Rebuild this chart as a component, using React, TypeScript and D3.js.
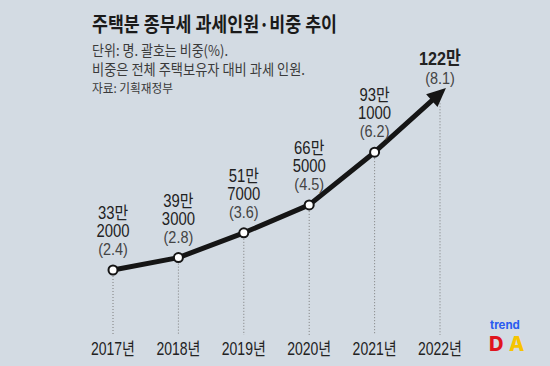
import { useMemo } from "react";
import { scaleLinear, scalePoint, line } from "d3";

const years = [2017, 2018, 2019, 2020, 2021, 2022];
const tenThousands = [33, 39, 51, 66, 93, 122];
const remainders = ["2000", "3000", "7000", "5000", "1000", ""];
const ratios = [2.4, 2.8, 3.6, 4.5, 6.2, 8.1];

const title = "주택분 종부세 과세인원·비중 추이";
const notes = ["단위: 명. 괄호는 비중(%).", "비중은 전체 주택보유자 대비 과세 인원."];
const source = "자료: 기획재정부";

const W = 550;
const H = 366;
const FONT = "'Liberation Sans', 'Noto Sans CJK KR', sans-serif";
const KFONT = "'Noto Sans CJK KR', sans-serif";

const Narrow = ({ x, y, sx = 0.85, size = 17, weight = 400, children }: any) => (
  <text
    transform={`translate(${x},${y}) scale(${sx},1)`}
    textAnchor="middle"
    fontFamily={FONT}
    fontSize={size}
    fontWeight={weight}
    fill="#222"
  >
    {children}
  </text>
);

export default function App() {
  const xScale = scalePoint<number>().domain(years).range([113, 440]);
  const yScale = scaleLinear().domain([0, 8.1]).range([344.4, 93.3]);

  const pts = years.map((yr, i) => [xScale(yr) as number, yScale(ratios[i])]);

  const arrow = useMemo(() => {
    const [x4, y4] = pts[4];
    const [x5, y5] = pts[5];
    const len = Math.hypot(x5 - x4, y5 - y4);
    const dx = (x5 - x4) / len;
    const dy = (y5 - y4) / len;
    const tip = [x5 + 8 * dx, y5 + 8 * dy];
    const base = [tip[0] - 19 * dx, tip[1] - 19 * dy];
    const hw = 8.5;
    return {
      head: `M${tip[0]},${tip[1]} L${base[0] - dy * hw},${base[1] + dx * hw} L${base[0] + dy * hw},${base[1] - dx * hw} Z`,
      lineEnd: [base[0] + 3 * dx, base[1] + 3 * dy],
    };
  }, [pts]);

  const path = line()([...pts.slice(0, 5), arrow.lineEnd as [number, number]]) ?? "";

  return (
    <div style={{ position: "fixed", left: 0, top: 0 }}>
      <svg width={W} height={H} viewBox={`0 0 ${W} ${H}`}>
        <rect width={W} height={H} fill="#d3dbe3" />

        <text x={92} y={32} fontFamily={KFONT} fontSize={20} fontWeight={700} fill="#1a1a1a"
          textLength={245} lengthAdjust="spacingAndGlyphs">{title}</text>
        {notes.map((n, i) => (
          <text key={n} x={92} y={56 + i * 19} fontFamily={KFONT} fontSize={14.5} fill="#3a3a3a"
            textLength={i === 0 ? 136 : 213} lengthAdjust="spacingAndGlyphs">{n}</text>
        ))}
        <text x={92} y={93} fontFamily={KFONT} fontSize={12.5} fill="#3a3a3a"
          textLength={81} lengthAdjust="spacingAndGlyphs">{source}</text>

        {pts.map(([px, py], i) => (
          <line key={years[i]} x1={px} x2={px} y1={i === 5 ? py + 10 : py + 6} y2={335}
            stroke="#7d7d7d" strokeWidth={1} strokeDasharray="1,2" />
        ))}

        <path d={path} fill="none" stroke="#151515" strokeWidth={5} strokeLinejoin="round" />
        <path d={arrow.head} fill="#151515" />

        {pts.slice(0, 5).map(([px, py], i) => (
          <circle key={years[i]} cx={px} cy={py} r={4.5} fill="#fff" stroke="#151515" strokeWidth={2} />
        ))}

        {pts.slice(0, 5).map(([px, py], i) => (
          <g key={years[i]}>
            <Narrow x={px} y={py - 51} size={17.5}>{tenThousands[i]}만</Narrow>
            <Narrow x={px} y={py - 33} size={17.5}>{remainders[i]}</Narrow>
            <Narrow x={px} y={py - 15} size={17}>
              <tspan fill="#444">({ratios[i].toFixed(1)})</tspan>
            </Narrow>
          </g>
        ))}
        <Narrow x={pts[5][0]} y={65} size={19} weight={700}>{tenThousands[5]}만</Narrow>
        <Narrow x={pts[5][0]} y={84} size={17}>
          <tspan fill="#444">({ratios[5].toFixed(1)})</tspan>
        </Narrow>

        {years.map((yr) => (
          <Narrow key={yr} x={xScale(yr)} y={355} sx={0.8} size={17.5}>{yr}년</Narrow>
        ))}

        <text x={490} y={329} fontFamily="Inter, sans-serif" fontSize={11.5} fontWeight={700} fill="#2a5cf0">trend</text>
        <text x={489} y={351} fontFamily="Inter, sans-serif" fontSize={20} fontWeight={800} fill="#e0141e">D</text>
        <text x={509} y={351} fontFamily="Inter, sans-serif" fontSize={20} fontWeight={800} fill="#f6c400">A</text>
      </svg>
    </div>
  );
}
